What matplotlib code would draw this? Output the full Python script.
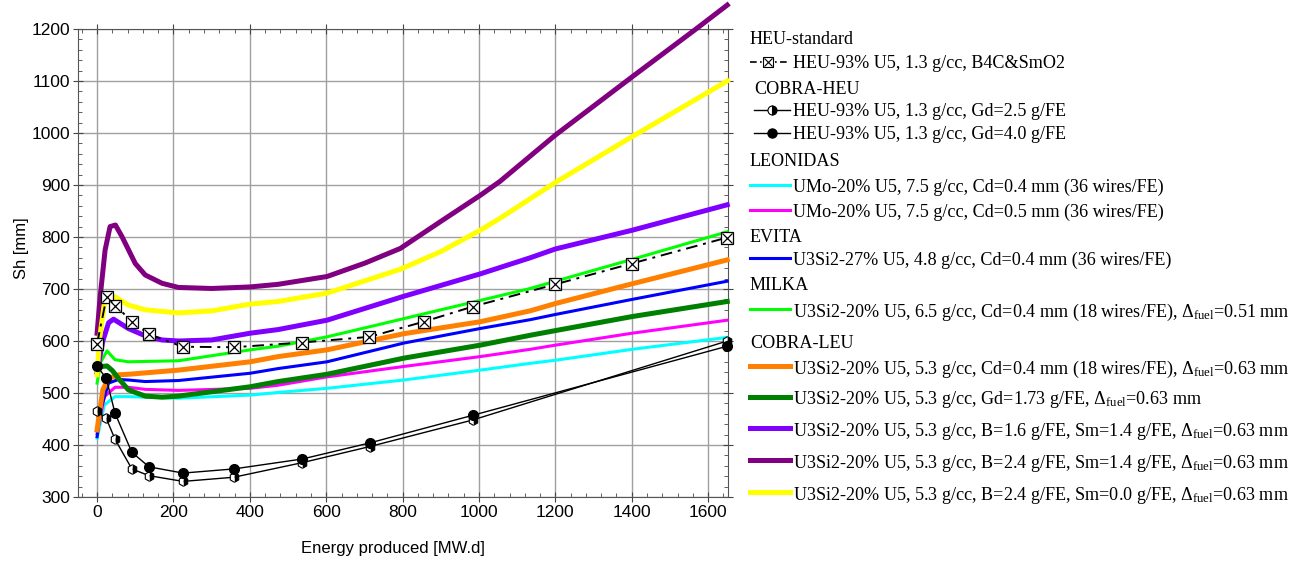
import matplotlib.pyplot as plt
from matplotlib.lines import Line2D
from matplotlib.ticker import MultipleLocator

plt.rcParams['font.family'] = 'Liberation Sans'
plt.rcParams['mathtext.fontset'] = 'custom'
plt.rcParams['mathtext.rm'] = 'Liberation Serif'
plt.rcParams['mathtext.it'] = 'Liberation Serif:italic'

# ---- data ----
# HEU-standard
heu_x = [0, 25, 48, 92, 136, 224, 358, 536, 713, 855, 983, 1200, 1400, 1650]
heu_y = [595, 685, 668, 637, 613, 589, 588, 597, 608, 637, 666, 709, 749, 799]

# COBRA-HEU
cobra_heu_x = [0, 24, 47, 91, 136, 225, 358, 537, 714, 983, 1650]
gd25_y = [465, 451, 411, 354, 341, 330, 338, 366, 397, 448, 600]
gd40_y = [552, 528, 461, 386, 358, 346, 354, 373, 404, 457, 590]

# LEONIDAS
leo04_x = [0, 19, 47, 82, 213, 401, 474, 602, 803, 1003, 1134, 1200, 1401, 1650]
leo04_y = [413, 477, 493, 493, 490, 496, 501, 509, 525, 544, 557, 563, 584, 607]
leo05_x = [0, 19, 47, 82, 126, 213, 401, 474, 602, 803, 1003, 1134, 1200, 1401, 1650]
leo05_y = [422, 493, 511, 511, 507, 505, 509, 515, 531, 551, 570, 584, 592, 615, 640]

# EVITA
evita_x = [0, 10, 30, 56, 82, 126, 213, 401, 474, 602, 803, 1003, 1134, 1200, 1401, 1650]
evita_y = [416, 470, 519, 526, 525, 522, 524, 538, 547, 560, 596, 624, 641, 651, 680, 715]

# MILKA
milka_x = [0, 10, 26, 47, 82, 213, 401, 474, 602, 803, 1003, 1134, 1200, 1401, 1650]
milka_y = [519, 560, 581, 564, 560, 562, 583, 590, 608, 643, 678, 701, 715, 757, 810]

# COBRA-LEU
leu_cd_x = [0, 6, 15, 30, 56, 82, 213, 401, 474, 602, 803, 1003, 1134, 1200, 1401, 1650]
leu_cd_y = [429, 461, 506, 528, 535, 536, 544, 560, 570, 583, 614, 637, 658, 672, 710, 756]
leu_gd_x = [0, 12, 26, 40, 56, 82, 126, 170, 213, 401, 474, 602, 803, 1003, 1134, 1200, 1401, 1650]
leu_gd_y = [547, 551, 552, 543, 528, 506, 494, 492, 494, 512, 522, 536, 567, 592, 611, 620, 647, 676]
leu_b16_x = [0, 15, 30, 43, 82, 126, 170, 213, 300, 401, 474, 602, 803, 1003, 1134, 1200, 1401, 1650]
leu_b16_y = [540, 600, 635, 642, 624, 610, 602, 600, 602, 615, 622, 640, 686, 729, 760, 777, 813, 862]
leu_b24_x = [0, 8, 21, 34, 48, 65, 100, 126, 170, 213, 300, 401, 474, 602, 702, 794, 900, 1003, 1055, 1200, 1401, 1570, 1650]
leu_b24_y = [615, 685, 775, 820, 823, 801, 749, 727, 711, 703, 701, 704, 709, 724, 750, 778, 830, 880, 907, 996, 1108, 1201, 1246]
leu_sm0_x = [0, 6, 19, 39, 47, 82, 126, 213, 300, 401, 474, 602, 794, 900, 1003, 1055, 1200, 1401, 1650]
leu_sm0_y = [535, 602, 672, 685, 685, 669, 660, 654, 658, 671, 676, 692, 738, 772, 813, 836, 905, 993, 1100]

DF = r'$\Delta_{\mathrm{fuel}}$'
groups = ['HEU-standard', 'COBRA-HEU', 'LEONIDAS', 'EVITA', 'MILKA', 'COBRA-LEU']
lab_heu = 'HEU-93% U5, 1.3 g/cc, B4C&SmO2'
lab_gd25 = 'HEU-93% U5, 1.3 g/cc, Gd=2.5 g/FE'
lab_gd40 = 'HEU-93% U5, 1.3 g/cc, Gd=4.0 g/FE'
lab_leo04 = 'UMo-20% U5, 7.5 g/cc, Cd=0.4 mm (36 wires/FE)'
lab_leo05 = 'UMo-20% U5, 7.5 g/cc, Cd=0.5 mm (36 wires/FE)'
lab_evita = 'U3Si2-27% U5, 4.8 g/cc, Cd=0.4 mm (36 wires/FE)'
lab_milka = 'U3Si2-20% U5, 6.5 g/cc, Cd=0.4 mm (18 wires/FE), ' + DF + '=0.51 mm'
lab_leu_cd = 'U3Si2-20% U5, 5.3 g/cc, Cd=0.4 mm (18 wires/FE), ' + DF + '=0.63 mm'
lab_leu_gd = 'U3Si2-20% U5, 5.3 g/cc, Gd=1.73 g/FE, ' + DF + '=0.63 mm'
lab_b16 = 'U3Si2-20% U5, 5.3 g/cc, B=1.6 g/FE, Sm=1.4 g/FE, ' + DF + '=0.63 mm'
lab_b24 = 'U3Si2-20% U5, 5.3 g/cc, B=2.4 g/FE, Sm=1.4 g/FE, ' + DF + '=0.63 mm'
lab_sm0 = 'U3Si2-20% U5, 5.3 g/cc, B=2.4 g/FE, Sm=0.0 g/FE, ' + DF + '=0.63 mm'

# ---- figure ----
W, H = 1305, 563
fig = plt.figure(figsize=(W / 100, H / 100), dpi=100)
ax = fig.add_axes([78 / W, 1 - 497 / H, 650 / W, 468 / H])

thin, thick = 2.2, 3.6
curves = [
    (leo04_x, leo04_y, '#00FFFF', thin),
    (leo05_x, leo05_y, '#FF00FF', thin),
    (evita_x, evita_y, '#0000FF', thin),
    (milka_x, milka_y, '#00FF00', thin),
    (leu_cd_x, leu_cd_y, '#FF8000', thick),
    (leu_gd_x, leu_gd_y, '#008000', thick),
    (leu_b16_x, leu_b16_y, '#8000FF', thick),
    (leu_b24_x, leu_b24_y, '#800080', thick),
    (leu_sm0_x, leu_sm0_y, '#FFFF00', thick),
]
for cx, cy, col, lw in curves:
    ax.plot(cx, cy, color=col, lw=lw, clip_on=False, zorder=3)

# COBRA-HEU
ax.plot(cobra_heu_x, gd25_y, color='black', lw=1, zorder=4)
ax.plot(cobra_heu_x, gd40_y, color='black', lw=1, zorder=4)
ax.plot(cobra_heu_x, gd25_y, ls='none', marker='h', ms=7, fillstyle='right',
        mfc='black', mfcalt='white', mec='black', mew=0.8, clip_on=False, zorder=5)
ax.plot(cobra_heu_x, gd40_y, ls='none', marker='o', ms=7, color='black',
        clip_on=False, zorder=5)

# HEU-standard
ax.plot(heu_x, heu_y, color='black', lw=1.4, ls=(0, (6, 3, 1.5, 3)), zorder=4)
ax.plot(heu_x, heu_y, ls='none', marker='s', ms=8, mfc='white', mec='black',
        mew=0.9, clip_on=False, zorder=5)
ax.plot(heu_x, heu_y, ls='none', marker='x', ms=7, color='black', mew=0.9,
        clip_on=False, zorder=6)

ax.set_xlim(-50, 1652)
ax.set_ylim(300, 1200)
ax.xaxis.set_major_locator(MultipleLocator(200))
ax.xaxis.set_minor_locator(MultipleLocator(40))
ax.yaxis.set_major_locator(MultipleLocator(100))
ax.yaxis.set_minor_locator(MultipleLocator(20))
ax.grid(True, which='major', color='#a0a0a0', lw=1)
ax.set_axisbelow(True)
ax.tick_params(which='both', top=True, right=True, labelsize=12.5, color='#444444')
ax.tick_params(which='major', direction='inout', length=7, pad=2)
ax.tick_params(which='minor', direction='in', length=3)
for s in ax.spines.values():
    s.set_color('#555555')

ax.set_ylabel('Sh [mm]', fontsize=12, va='center')
ax.set_xlabel('Energy produced [MW.d]', fontsize=12, va='center')
ax.yaxis.set_label_coords(-0.087, 0.532)
ax.xaxis.set_label_coords(0.485, -0.111)

# ---- legend, drawn by hand in pixel positions ----
LFS = 13.1


def fx(px):
    return px / W


def fy(py):
    return 1 - py / H


def header(py, text, px=750):
    fig.text(fx(px), fy(py), text, family='Liberation Serif', fontsize=LFS,
             va='center_baseline')


def entry(py, text, x0=750, **kw):
    fig.add_artist(Line2D([fx(x0), fx(790)], [fy(py), fy(py)],
                          transform=fig.transFigure, **kw))
    fig.text(fx(793), fy(py), text, family='Liberation Serif', fontsize=LFS,
             va='center_baseline')


def marker(px, py, **kw):
    fig.add_artist(Line2D([fx(px)], [fy(py)], transform=fig.transFigure, ls='none', **kw))


header(38, groups[0])
entry(62, lab_heu, color='black', lw=1.2, ls=(0, (4, 2, 1, 2)))
marker(768, 62, marker='s', ms=7, mfc='white', mec='black', mew=0.8)
marker(768, 62, marker='x', ms=6, color='black', mew=0.8)
header(88, groups[1], px=754)
entry(110, lab_gd25, x0=754, color='black', lw=1)
marker(772, 110, marker='o', ms=6.5, fillstyle='right', mfc='black',
       mfcalt='white', mec='black', mew=0.8)
entry(133, lab_gd40, x0=754, color='black', lw=1)
marker(772, 133, marker='o', ms=6.5, color='black')
header(160, groups[2])
entry(185, lab_leo04, color='#00FFFF', lw=thin)
entry(210, lab_leo05, color='#FF00FF', lw=thin)
header(235, groups[3])
entry(258, lab_evita, color='#0000FF', lw=thin)
header(284, groups[4])
entry(309, lab_milka, color='#00FF00', lw=thin)
header(341, groups[5])
entry(366, lab_leu_cd, color='#FF8000', lw=thick)
entry(397, lab_leu_gd, color='#008000', lw=thick)
entry(428, lab_b16, color='#8000FF', lw=thick)
entry(460, lab_b24, color='#800080', lw=thick)
entry(492, lab_sm0, color='#FFFF00', lw=thick)

fig.savefig('out.png', dpi=100)
